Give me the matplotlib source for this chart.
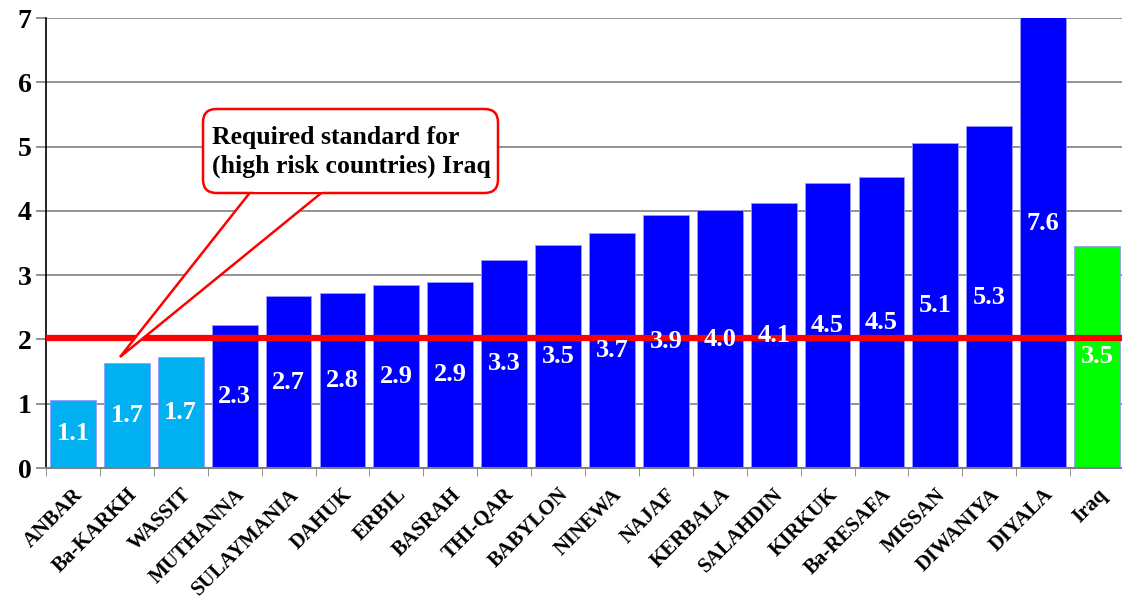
import numpy as np
import matplotlib.pyplot as plt
from matplotlib.patches import FancyBboxPatch, Polygon

# Datos del gráfico
provincias = ['ANBAR', 'Ba-KARKH', 'WASSIT', 'MUTHANNA', 'SULAYMANIA', 'DAHUK',
              'ERBIL', 'BASRAH', 'THI-QAR', 'BABYLON', 'NINEWA', 'NAJAF',
              'KERBALA', 'SALAHDIN', 'KIRKUK', 'Ba-RESAFA', 'MISSAN',
              'DIWANIYA', 'DIYALA', 'Iraq']
valores = [1.06, 1.64, 1.73, 2.23, 2.67, 2.73, 2.84, 2.90, 3.24, 3.47, 3.65,
           3.93, 4.01, 4.13, 4.44, 4.52, 5.06, 5.32, 7.6, 3.46]
etiquetas = ['1.1', '1.7', '1.7', '2.3', '2.7', '2.8', '2.9', '2.9', '3.3', '3.5',
             '3.7', '3.9', '4.0', '4.1', '4.5', '4.5', '5.1', '5.3', '7.6', '3.5']
grupo = ['bajo'] * 3 + ['alto'] * 16 + ['total']
estandar = 2.02

colores = {'bajo': '#00B0F0', 'alto': '#0000FF', 'total': '#00FF00'}
serif = 'Liberation Serif'

fig = plt.figure(figsize=(11.22, 6.06), dpi=100)
ax = fig.add_axes([46 / 1122, 138 / 606, 1078 / 1122, 450 / 606])

x = np.arange(len(provincias))
barras = ax.bar(x, valores, width=0.85, color=[colores[g] for g in grupo],
                edgecolor='#9999FF', linewidth=0.6, zorder=2)

for xi, v, txt in zip(x, valores, etiquetas):
    ax.text(xi, v / 2, txt, ha='center', va='center', color='white',
            fontsize=19, fontweight='bold', family=serif, zorder=4)

ax.axhline(estandar, color='#FF0000', linewidth=4.5, zorder=3)

ax.set_ylim(0, 7)
ax.set_xlim(-0.5, 19.5)
ax.set_yticks(range(8))
ax.yaxis.grid(True, color='#808080', linewidth=1.2, zorder=0)
ax.set_axisbelow(True)
for s in ['top', 'right']:
    ax.spines[s].set_visible(False)
ax.spines['left'].set_linewidth(1.2)
ax.spines['bottom'].set_color('#808080')
ax.spines['bottom'].set_linewidth(1.5)

ax.set_xticks(x)
ax.set_xticklabels(provincias, rotation=45, ha='right', rotation_mode='anchor',
                   fontsize=15, fontweight='bold', family=serif)
ax.set_xticks(np.arange(-0.5, 19.5, 1), minor=True)
ax.tick_params(axis='x', which='major', length=0, pad=12)
ax.tick_params(axis='x', which='minor', length=6, color='#808080')
ax.tick_params(axis='y', length=7, width=1.2, color='#808080')
for lab in ax.get_yticklabels():
    lab.set_fontsize(20)
    lab.set_fontweight('bold')
    lab.set_family(serif)

# Recuadro de la nota (en píxeles de la figura)
def px(xp, yp):
    return (xp / 1122, 1 - yp / 606)

cola = Polygon([px(252, 190), px(120, 357), px(325, 190)], closed=True,
               transform=fig.transFigure, facecolor='white', edgecolor='#FF0000',
               linewidth=1.8, zorder=5)
fig.add_artist(cola)
x0, y0 = px(203, 193)
x1, y1 = px(498, 109)
caja = FancyBboxPatch((x0, y0), x1 - x0, y1 - y0,
                      boxstyle='round,pad=0,rounding_size=0.012',
                      transform=fig.transFigure, facecolor='white',
                      edgecolor='#FF0000', linewidth=1.8, zorder=6,
                      mutation_aspect=1122 / 606)
fig.add_artist(caja)
# tapar la base de la cola dentro de la caja
fig.add_artist(Polygon([px(254, 191.5), px(323, 191.5), px(323, 188), px(254, 188)],
                       closed=True, transform=fig.transFigure, facecolor='white',
                       edgecolor='none', zorder=7))
fig.text(*px(212, 152), 'Required standard for\n(high risk countries) Iraq',
         fontsize=18.5, fontweight='bold', family=serif, ha='left', va='center',
         linespacing=1.3, zorder=8)

fig.savefig('out.png', dpi=100)
